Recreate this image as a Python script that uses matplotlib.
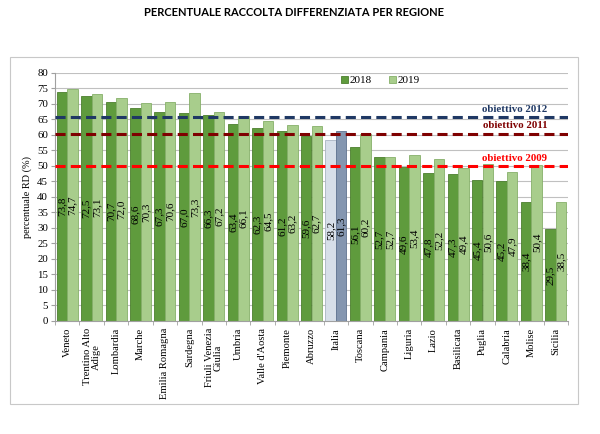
import numpy as np
import matplotlib
matplotlib.use('Agg')
import matplotlib.pyplot as plt
from matplotlib.patches import Rectangle

regions = ['Veneto', 'Trentino Alto\nAdige', 'Lombardia', 'Marche', 'Emilia Romagna', 'Sardegna',
           'Friuli Venezia\nGiulia', 'Umbria', "Valle d'Aosta", 'Piemonte', 'Abruzzo', 'Italia',
           'Toscana', 'Campania', 'Liguria', 'Lazio', 'Basilicata', 'Puglia', 'Calabria',
           'Molise', 'Sicilia']
rd_2018 = [73.8, 72.5, 70.7, 68.6, 67.3, 67.0, 66.3, 63.4, 62.3, 61.2, 59.6, 58.2,
           56.1, 52.7, 49.6, 47.8, 47.3, 45.4, 45.2, 38.4, 29.5]
rd_2019 = [74.7, 73.1, 72.0, 70.3, 70.6, 73.3, 67.2, 66.1, 64.5, 63.2, 62.7, 61.3,
           60.2, 52.7, 53.4, 52.2, 49.4, 50.6, 47.9, 50.4, 38.5]
targets = [('obiettivo 2012', 65.8, '#1f3864'),
           ('obiettivo 2011', 60.4, '#7f0000'),
           ('obiettivo 2009', 50.0, '#ff0000')]

plt.rcParams['font.family'] = 'Liberation Serif'

fig = plt.figure(figsize=(6, 4.34), dpi=100)
# light frame around the chart area
fig.patches.append(Rectangle((10 / 600, 1 - 404 / 434), 568 / 600, 347 / 434,
                             transform=fig.transFigure, fill=False,
                             edgecolor='#c8c8c8', linewidth=0.8))
fig.text(0.49, 1 - 13 / 434, 'PERCENTUALE RACCOLTA DIFFERENZIATA PER REGIONE',
         ha='center', va='center', fontsize=8, fontweight='bold', family='Lato')

ax = fig.add_axes([55 / 600, 1 - 321 / 434, 513 / 600, 248.3 / 434])

x = np.arange(len(regions))
w = 0.43
c18 = ['#d7dfe9' if r == 'Italia' else '#5f9b3d' for r in regions]
c19 = ['#8496b0' if r == 'Italia' else '#a8cd8c' for r in regions]
e18 = ['#a9b4c2' if r == 'Italia' else '#4c7f2f' for r in regions]
e19 = ['#5f7390' if r == 'Italia' else '#86b06a' for r in regions]
b1 = ax.bar(x - w / 2, rd_2018, w, color=c18, edgecolor=e18, linewidth=0.6, label='2018', zorder=2)
b2 = ax.bar(x + w / 2, rd_2019, w, color=c19, edgecolor=e19, linewidth=0.6, label='2019', zorder=2)

# value labels in the middle of each bar
for bars, vals in ((b1, rd_2018), (b2, rd_2019)):
    for b, v in zip(bars, vals):
        ax.text(b.get_x() + b.get_width() / 2, v / 2, f'{v:.1f}'.replace('.', ','),
                rotation=90, ha='center', va='center', fontsize=8, zorder=4)

for name, lvl, col in targets:
    ax.axhline(lvl, color=col, linewidth=2.2, dashes=(3.3, 1.7), zorder=3)
    ax.text(19.65, lvl + 1.0, name, ha='right', va='bottom', color=col,
            fontsize=7.8, fontweight='bold', zorder=4)

ax.set_xlim(-0.5, len(regions) - 0.5)
ax.set_ylim(0, 80)
ax.set_yticks(np.arange(0, 81, 5))
ax.yaxis.grid(True, color='#c0c0c0', linewidth=0.8, zorder=0)
ax.set_axisbelow(True)
ax.set_xticks(x)
ax.set_xticklabels(regions, rotation=90, ha='center', va='top', fontsize=7.6,
                   multialignment='center', linespacing=1.0)
ax.set_xticks(np.arange(-0.5, len(regions), 1), minor=True)
ax.tick_params(axis='x', which='major', length=0, pad=5)
ax.tick_params(axis='x', which='minor', length=3, color='#a0a0a0')
ax.tick_params(axis='y', labelsize=7.8, length=3, color='#a0a0a0', pad=2)
for s in ('top', 'right'):
    ax.spines[s].set_visible(False)
for s in ('left', 'bottom'):
    ax.spines[s].set_color('#a0a0a0')
    ax.spines[s].set_linewidth(0.8)
ax.set_ylabel('percentuale RD (%)', fontsize=7.4, labelpad=4)

ax.legend(loc='center', bbox_to_anchor=(0.634, 0.968), ncol=2, frameon=False,
          fontsize=8, handlelength=0.6, handleheight=0.6, handletextpad=0.15,
          columnspacing=1.6)

fig.savefig('out.png', dpi=100)
